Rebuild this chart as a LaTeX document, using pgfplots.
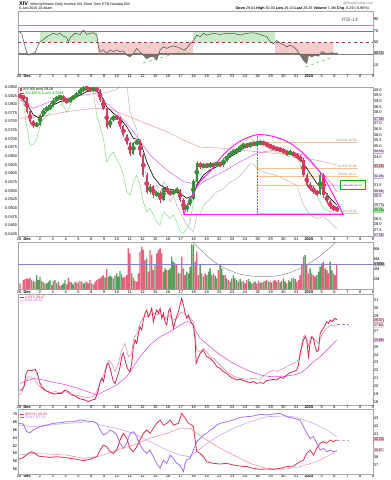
\documentclass[border=0pt]{standalone}
\usepackage{pgfplots}
\pgfplotsset{compat=1.18}
\usepackage{pgfplotstable}
\usepackage{fontspec}
\setmainfont{Liberation Sans}

\definecolor{rsigreen}{HTML}{C9EBC9}
\definecolor{rsired}{HTML}{F6CBCB}
\definecolor{rsipink}{HTML}{F07090}
\definecolor{rsiline}{HTML}{4A4A4A}
\definecolor{rsidash}{HTML}{C0304A}
\definecolor{rsidark}{HTML}{6E6558}
\definecolor{trgreen}{HTML}{66CC66}
\definecolor{cred}{HTML}{D63A5C}
\definecolor{cgreen}{HTML}{3C8C3C}
\definecolor{vred}{HTML}{E4627E}
\definecolor{vgreen}{HTML}{5C9C5C}
\definecolor{magma}{HTML}{E070E8}
\definecolor{salmon}{HTML}{EBA3A3}
\definecolor{cupmag}{HTML}{FF22FF}
\definecolor{fibor}{HTML}{F6C28E}
\definecolor{glight}{HTML}{80E080}
\definecolor{grayln}{HTML}{B8B8B8}
\definecolor{volblue}{HTML}{8080D8}
\definecolor{vix1}{HTML}{D92550}
\definecolor{vix2}{HTML}{EC8FA3}
\definecolor{vixma}{HTML}{E055E0}
\definecolor{bred}{HTML}{E0304F}
\definecolor{bred2}{HTML}{F29AAA}
\definecolor{bpur}{HTML}{A56CF2}
\definecolor{bpur2}{HTML}{CBA6F2}
\definecolor{boxpur}{HTML}{B070E0}

\pgfplotstableread{
x y
0.36 68.7
0.57 66
0.75 49
0.96 33
1.09 28
1.35 31
1.61 32
1.79 42.5
2.0 51
2.26 55
2.52 60
2.78 63
3.04 66
3.30 64
3.56 66
3.82 61
4.08 59
4.21 51
4.40 60
4.73 66
5.13 64
5.39 71.7
5.65 64
5.91 66
6.17 67
6.43 63
6.56 42.5
6.69 34
6.95 37
7.21 31
7.47 37
7.73 34
7.99 37
8.25 34
8.51 35.5
8.77 28
9.03 25
9.29 31
9.55 39.7
9.81 34
10.07 28
10.33 22
10.59 25
10.85 26
11.11 19
11.375 37
11.64 42.5
11.90 39.7
12.16 42.5
12.42 44
12.68 42.5
12.94 40
13.20 37
13.46 40
13.72 48
13.98 53.5
14.24 63
14.50 60
14.76 66
15.02 63
15.54 66
16.06 64
16.58 66
17.10 66
17.63 63
18.15 66
18.67 67
19.19 64
19.71 60
19.97 51
20.23 48
20.49 53.5
20.75 49
21.01 46
21.27 42.5
21.53 45
21.79 42.5
22.05 37
22.31 28
22.57 19
22.83 13.5
22.96 28
23.22 25
23.48 28
23.74 26
24.00 34
24.27 31
24.53 31
24.79 32
25.05 31
25.23 31.7
}\rsi

\pgfplotstableread{
x o c h l
0.44 39.50 39.40 39.65 39.25
0.70 39.40 39.32 39.55 39.10
0.96 39.32 38.07 39.40 37.90
1.22 38.07 37.17 38.20 37.00
1.48 37.17 36.87 37.30 36.60
3.82 39.40 39.11 39.55 38.95
4.08 39.11 38.96 39.25 38.75
5.645 40.20 40.15 40.35 39.95
5.905 40.15 40.00 40.30 39.85
6.43 40.15 40.00 40.30 39.80
6.69 40.00 39.11 40.10 38.95
6.95 39.11 38.36 39.25 38.20
7.21 38.36 36.73 38.50 36.55
7.99 37.62 37.47 37.80 37.30
8.25 37.47 36.73 37.60 36.55
8.51 36.73 35.98 36.90 35.80
8.77 35.98 35.24 36.10 35.05
9.03 35.24 34.35 35.40 34.15
9.81 35.39 34.20 35.55 34.00
10.07 34.20 32.41 34.35 32.20
10.33 32.41 30.92 32.55 30.70
10.85 31.37 30.62 31.55 30.40
11.375 30.77 30.18 30.95 29.95
11.895 31.22 30.92 31.40 30.75
12.155 30.92 30.77 31.10 30.55
12.935 31.05 30.18 31.20 30.00
13.20 30.18 29.29 30.35 29.05
14.50 33.45 33.15 33.60 32.95
15.02 33.30 33.20 33.45 33.00
15.54 33.35 33.30 33.50 33.10
16.06 33.45 33.30 33.60 33.10
18.145 35.09 35.00 35.25 34.85
18.665 35.24 35.15 35.40 35.00
19.445 35.33 35.24 35.45 35.05
19.705 35.24 35.09 35.35 34.90
19.965 35.09 34.94 35.20 34.75
20.225 34.94 34.79 35.10 34.60
20.485 34.79 34.73 34.95 34.55
20.75 34.73 34.64 34.90 34.45
21.01 34.64 34.49 34.80 34.30
21.27 34.49 34.35 34.65 34.15
21.79 34.40 34.20 34.55 34.00
22.05 34.20 34.05 34.35 33.85
22.31 34.05 33.75 34.20 33.55
22.57 33.75 32.41 33.90 32.20
22.83 32.41 31.52 32.60 31.30
23.09 31.52 31.22 31.75 31.00
23.35 31.22 30.92 31.45 30.70
23.61 30.92 30.77 31.10 30.55
24.135 32.41 30.62 32.55 30.40
24.395 30.62 30.03 30.80 29.80
24.655 30.03 29.58 30.20 29.35
24.915 29.58 29.43 29.75 29.20
25.175 29.43 29.28 29.60 29.10
}\cdn

\pgfplotstableread{
x o c h l
1.74 36.87 36.93 37.10 36.70
2.0 36.93 37.77 37.90 36.80
2.26 37.77 38.21 38.35 37.60
2.52 38.21 38.36 38.55 38.05
2.78 38.36 38.66 38.80 38.20
3.04 38.66 39.11 39.25 38.50
3.30 39.11 39.32 39.50 38.95
3.56 39.32 39.40 39.60 39.15
4.34 38.96 39.26 39.40 38.80
4.60 39.26 39.40 39.55 39.10
4.86 39.40 39.70 39.85 39.25
5.125 39.70 40.00 40.15 39.55
5.385 40.00 40.20 40.35 39.85
6.17 40.00 40.15 40.30 39.85
7.47 36.73 37.32 37.50 36.60
7.73 37.32 37.62 37.80 37.15
9.29 34.35 35.24 35.40 34.20
9.55 35.24 35.39 35.60 35.05
10.59 30.92 31.37 31.60 30.75
11.11 30.62 30.77 31.00 30.45
11.635 30.18 31.22 31.45 30.05
12.415 30.77 30.92 31.15 30.60
12.675 30.92 31.05 31.30 30.75
13.46 29.29 29.73 29.95 29.10
13.72 29.73 30.33 30.55 29.60
13.98 30.33 31.82 32.05 30.20
14.24 31.82 33.45 33.70 31.70
14.76 33.15 33.30 33.50 33.00
15.28 33.20 33.35 33.55 33.05
15.80 33.30 33.45 33.65 33.15
16.32 33.30 33.75 33.95 33.15
16.58 33.75 34.05 34.25 33.60
16.84 34.05 34.35 34.55 33.90
17.10 34.35 34.49 34.70 34.20
17.36 34.49 34.64 34.85 34.35
17.625 34.64 34.94 35.10 34.50
17.885 34.94 35.09 35.30 34.80
18.405 35.00 35.24 35.40 34.85
18.925 35.15 35.24 35.45 35.00
19.185 35.24 35.33 35.50 35.10
21.53 34.35 34.40 34.60 34.20
23.875 30.77 32.41 32.70 30.60
}\cup

\pgfplotstableread{
x y
0.44 39.40
0.96 38.81
1.48 37.77
2.0 37.47
2.52 38.07
3.04 38.66
3.56 38.96
4.08 39.11
4.60 39.26
5.125 39.55
5.645 39.85
6.17 40.00
6.69 39.70
6.95 39.11
7.21 38.51
7.73 37.92
8.25 37.47
8.77 36.73
9.29 35.68
9.81 35.54
10.33 33.60
10.85 32.26
11.375 31.52
11.895 31.22
12.415 31.07
12.935 30.77
13.46 30.33
13.98 30.62
14.24 31.52
14.76 32.41
15.28 32.86
15.80 33.15
16.32 33.45
16.84 34.05
17.36 34.35
17.885 34.79
18.405 35.00
18.925 35.15
19.445 35.15
19.965 35.00
20.485 34.79
21.01 34.58
21.53 34.40
22.05 34.20
22.57 33.45
23.09 32.56
23.61 31.67
24.135 31.07
24.655 30.33
25.175 29.73
}\pblack

\pgfplotstableread{
x y
0.44 39.11
1.48 38.36
2.78 38.96
4.08 39.26
5.385 39.55
6.43 39.70
6.69 39.26
7.99 38.07
9.29 36.28
10.59 34.20
11.895 32.86
13.20 31.82
14.50 31.52
14.76 31.82
16.32 32.71
17.625 33.60
18.925 34.35
20.225 34.64
21.53 34.49
22.57 34.20
23.61 33.00
24.655 31.82
25.175 30.92
}\pmag

\pgfplotstableread{
x y
0.44 37.47
2.0 37.62
4.08 38.07
6.17 38.36
7.47 38.30
9.29 37.47
10.59 36.87
11.895 36.28
13.20 35.54
14.50 34.90
16.32 34.79
17.625 34.64
18.925 34.49
20.225 34.35
21.53 34.20
22.83 33.90
24.135 33.60
25.175 33.30
}\psal

\pgfplotstableread{
x y
3.56 0.0796
4.08 0.0815
4.86 0.0829
5.645 0.0843
6.43 0.0839
7.21 0.0834
7.99 0.0843
8.38 0.0860
8.77 0.0860
9.03 0.0776
9.29 0.0748
9.55 0.0728
9.81 0.0662
10.07 0.0633
10.33 0.0585
10.59 0.0547
10.85 0.0556
11.11 0.0566
11.375 0.0537
11.635 0.0575
11.895 0.0566
12.155 0.0518
12.415 0.0537
12.675 0.0508
12.935 0.0489
13.20 0.0470
13.46 0.0451
13.72 0.0441
13.98 0.0432
14.24 0.0480
14.50 0.0480
14.76 0.0508
15.28 0.0527
15.80 0.0547
16.32 0.0556
16.84 0.0575
17.36 0.0585
17.885 0.0604
18.405 0.0628
18.665 0.0628
18.925 0.0614
19.445 0.0604
19.965 0.0599
20.485 0.0594
21.01 0.0585
21.53 0.0575
22.05 0.0566
22.57 0.0508
23.09 0.0480
23.61 0.0470
24.135 0.0475
24.655 0.0460
25.175 0.0441
}\pgray

\pgfplotstableread{
x y
0.44 0.0824
0.70 0.0805
0.96 0.0738
1.22 0.0681
1.48 0.0685
1.74 0.0700
2.0 0.0738
2.26 0.0757
2.52 0.0767
2.78 0.0776
3.04 0.0796
3.30 0.0815
3.56 0.0815
3.82 0.0796
4.08 0.0776
4.34 0.0796
4.60 0.0815
5.125 0.0834
5.645 0.0843
6.17 0.0834
6.43 0.0767
6.69 0.0738
6.95 0.0700
7.21 0.0633
7.47 0.0652
7.73 0.0662
7.99 0.0642
8.25 0.0623
8.51 0.0595
8.77 0.0547
9.03 0.0537
9.29 0.0575
9.55 0.0595
9.81 0.0566
10.07 0.0518
10.33 0.0489
10.59 0.0499
10.85 0.0480
11.11 0.0460
11.375 0.0451
11.635 0.0489
11.895 0.0480
12.155 0.0470
12.415 0.0480
12.675 0.0460
12.935 0.0432
13.20 0.0427
13.46 0.0441
13.72 0.0460
13.98 0.0518
14.24 0.0614
14.50 0.0594
14.76 0.0619
15.28 0.0623
15.80 0.0628
16.32 0.0642
16.84 0.0662
17.36 0.0671
17.885 0.0690
18.405 0.0705
18.925 0.0685
19.445 0.0681
19.965 0.0671
20.485 0.0662
21.01 0.0657
21.53 0.0647
22.05 0.0647
22.57 0.0604
23.09 0.0566
23.61 0.0537
24.135 0.0499
24.655 0.0489
25.175 0.0499
}\pgreen

\pgfplotstableread{
x y
0.44 1.21
0.70 1.86
0.83 2.06
0.96 2.19
1.09 2.06
1.22 2.32
1.35 1.86
1.61 1.54
2.26 1.41
2.91 0.88
3.04 1.67
3.43 1.54
3.56 0.75
4.08 1.01
4.21 2.32
4.34 1.54
4.73 1.54
4.86 1.34
5.125 1.67
5.255 1.54
5.645 1.54
5.775 1.21
5.905 1.86
6.17 1.01
6.30 1.54
6.43 1.86
6.56 2.06
6.69 2.19
6.82 2.52
6.95 2.84
7.21 4.02
7.73 2.19
8.38 2.97
8.51 2.32
8.64 2.52
8.77 2.84
8.90 8.07
9.03 7.10
9.29 2.32
9.42 1.67
9.55 1.54
9.68 3.17
9.81 7.42
9.94 8.40
10.07 7.75
10.20 5.78
10.46 3.50
10.59 7.75
10.72 6.76
10.85 3.82
11.11 7.10
11.24 7.75
11.375 8.07
11.505 7.10
11.895 3.82
12.675 4.80
12.935 3.17
13.065 6.43
13.20 4.15
13.33 2.84
14.11 5.46
14.24 7.42
14.37 2.84
14.63 3.17
14.89 3.17
15.41 2.84
15.54 3.17
15.93 3.82
16.45 2.84
16.71 1.86
16.97 2.19
17.49 1.54
17.885 1.67
18.015 1.21
18.145 1.86
18.535 1.21
18.665 1.41
18.925 1.21
19.055 1.67
19.315 1.41
19.445 1.54
19.705 1.86
19.965 1.54
20.225 1.67
20.355 1.86
20.615 1.86
20.88 1.67
21.27 1.21
21.79 2.32
22.05 1.54
22.18 1.86
22.31 2.84
22.44 4.80
22.57 6.44
22.83 4.80
22.96 3.17
23.22 3.17
23.35 2.84
23.48 2.52
24.005 5.13
24.135 5.46
24.395 3.82
24.525 3.17
24.915 3.17
25.045 2.84
25.175 4.80
}\vr

\pgfplotstableread{
x y
1.48 1.54
1.74 2.84
1.87 1.86
2.0 2.52
2.13 1.67
2.39 1.21
2.52 1.21
2.65 1.54
2.78 1.86
3.17 1.86
3.30 1.21
3.69 0.88
3.82 1.21
3.95 1.86
4.47 1.41
4.60 1.01
4.99 1.41
5.385 1.21
5.515 1.41
6.04 1.21
7.08 2.32
7.34 2.52
7.47 2.71
7.60 2.52
7.86 2.71
7.99 3.17
8.12 2.52
8.25 3.63
9.16 3.17
10.33 6.10
10.98 4.80
11.635 3.50
11.765 4.15
12.025 3.82
12.155 4.15
12.285 6.43
12.415 5.46
12.545 5.13
12.805 3.17
13.46 3.50
13.59 3.17
13.72 4.48
13.85 8.86
13.98 8.73
14.50 4.80
14.76 2.52
15.02 2.84
15.15 3.50
15.28 4.15
15.67 2.71
15.80 2.19
16.06 4.80
16.19 4.15
16.32 2.84
16.58 2.19
16.84 1.54
17.10 2.71
17.23 2.19
17.36 1.86
17.625 2.06
17.755 1.54
18.275 2.06
18.405 1.54
18.795 1.54
19.185 1.34
19.575 1.67
19.835 1.54
20.095 1.34
20.485 1.54
20.75 1.41
21.01 2.19
21.14 1.54
21.40 1.86
21.53 1.54
21.66 2.19
21.92 2.06
22.70 6.76
23.09 4.15
23.61 2.84
23.74 3.50
23.875 4.48
24.265 4.15
24.655 5.46
24.785 3.82
}\vg

\pgfplotstableread{
x y
0.36 19.49
0.57 19.49
0.75 19.92
0.91 21.62
1.09 22.05
1.35 21.96
1.61 22.13
1.79 21.62
1.95 20.56
2.13 19.92
2.39 19.49
2.65 19.28
2.91 19.06
3.17 18.98
3.43 19.06
3.69 19.06
3.95 19.49
4.21 19.28
4.47 18.85
4.73 18.72
4.99 18.43
5.255 18.30
5.515 18.21
5.775 18.00
6.04 18.21
6.30 18.30
6.56 19.49
6.69 20.56
6.82 20.98
6.95 20.56
7.08 21.62
7.21 22.69
7.34 22.90
7.47 22.26
7.60 21.41
7.73 20.56
7.86 20.34
7.99 20.98
8.12 21.62
8.25 22.48
8.38 23.75
8.51 24.18
8.64 23.33
8.77 22.48
8.90 22.05
9.03 21.84
9.16 22.90
9.29 25.03
9.42 25.89
9.55 25.46
9.68 26.74
9.81 27.59
9.94 27.16
10.07 28.44
10.20 29.30
10.33 29.72
10.46 28.87
10.59 29.30
10.72 29.94
10.85 28.23
10.98 29.08
11.11 29.72
11.24 29.30
11.375 29.94
11.505 28.66
11.635 29.30
11.765 28.23
11.895 27.80
12.025 29.50
12.155 29.94
12.285 28.66
12.415 27.38
12.545 28.23
12.675 28.87
12.805 29.50
12.935 30.36
13.065 31.21
13.20 30.36
13.33 29.30
13.46 28.66
13.59 29.08
13.72 28.44
13.85 28.02
13.98 27.70
14.11 25.89
14.19 22.90
14.29 23.33
14.50 24.18
14.76 24.60
15.02 23.75
15.28 23.54
15.54 23.12
15.80 22.48
16.06 22.26
16.32 21.84
16.58 21.62
16.84 21.20
17.10 20.98
17.36 20.77
17.625 20.86
17.885 20.69
18.145 20.56
18.405 20.43
18.665 20.56
18.925 20.34
19.185 20.43
19.445 20.34
19.705 20.69
19.965 20.77
20.225 20.86
20.485 20.77
20.75 21.11
21.01 20.98
21.27 21.41
21.53 21.71
21.79 21.84
22.05 22.05
22.18 22.69
22.31 24.18
22.44 25.03
22.57 25.89
22.70 26.31
22.83 25.89
22.96 23.75
23.09 25.46
23.22 26.31
23.35 26.10
23.48 25.03
23.61 24.39
23.74 24.60
23.875 26.74
24.005 27.16
24.135 27.38
24.265 27.80
24.395 28.23
24.525 28.02
24.655 28.44
24.785 28.23
24.915 28.44
25.045 28.66
25.175 28.47
}\vixa

\pgfplotstableread{
x y
0.36 18.85
0.57 19.06
0.83 20.34
1.09 21.20
1.35 21.11
1.61 20.77
1.87 20.13
2.13 19.70
2.39 19.41
2.78 19.15
3.17 19.28
3.56 19.15
3.95 19.28
4.34 18.98
4.73 18.85
5.125 18.72
5.515 18.55
5.905 18.55
6.30 18.85
6.56 19.92
6.82 20.77
7.08 22.05
7.34 23.33
7.60 22.90
7.86 21.84
8.12 22.90
8.38 24.60
8.64 25.46
8.90 23.75
9.16 24.18
9.29 25.89
9.55 26.74
9.81 28.02
10.07 28.87
10.33 28.87
10.59 29.08
10.85 29.30
11.11 29.08
11.375 29.30
11.635 28.87
11.895 28.66
12.155 29.08
12.415 28.44
12.675 28.66
12.935 29.30
13.20 29.50
13.46 28.87
13.72 28.66
13.98 28.23
14.11 26.74
14.24 24.60
14.50 24.39
14.76 24.82
15.02 24.39
15.28 23.75
15.54 23.54
15.80 23.12
16.06 22.69
16.32 22.26
16.58 21.84
16.84 21.54
17.10 21.28
17.36 21.11
17.625 20.98
18.145 20.86
18.665 20.98
19.185 20.86
19.705 21.62
19.965 21.84
20.225 22.05
20.485 21.84
20.75 22.05
21.01 22.26
21.27 22.48
21.53 22.69
21.79 22.90
22.05 23.12
22.31 23.75
22.44 25.46
22.57 26.31
22.70 26.52
22.83 25.89
22.96 25.03
23.09 26.10
23.22 26.31
23.48 25.89
23.74 25.46
24.005 26.52
24.265 27.16
24.525 27.59
24.785 27.80
25.045 27.67
25.175 27.80
}\vixb

\pgfplotstableread{
x y
0.44 20.34
1.48 20.98
2.26 20.77
4.08 20.13
5.385 19.49
6.43 18.85
7.21 19.49
7.99 20.13
8.77 21.20
9.29 22.48
9.81 23.75
10.59 25.25
11.375 26.31
12.155 26.95
12.935 27.80
13.46 28.23
13.85 28.10
14.11 27.16
14.50 26.10
15.28 25.03
16.06 23.97
17.10 22.90
18.145 22.05
19.185 21.41
19.965 21.20
21.01 21.20
21.79 21.41
22.31 21.62
22.83 22.26
23.35 23.12
23.875 23.75
24.395 24.60
24.915 25.46
25.175 25.89
}\vixm

\pgfplotstableread{
x y
0.36 37.73
0.70 37.98
1.09 38.50
1.35 38.71
1.61 38.50
1.87 38.15
2.26 38.07
2.78 37.98
3.30 38.07
3.82 37.98
4.34 37.86
4.86 37.73
5.385 37.56
5.905 37.73
6.43 38.07
6.69 38.92
6.95 39.56
7.21 39.35
7.47 38.71
7.73 38.50
7.99 38.92
8.25 40.21
8.51 41.06
8.77 40.42
9.03 39.14
9.29 38.71
9.55 39.35
9.81 40.21
10.07 41.06
10.33 41.49
10.59 41.06
10.85 41.70
11.11 42.34
11.375 42.77
11.635 42.10
11.895 42.34
12.155 42.77
12.415 42.10
12.805 42.34
13.065 43.60
13.33 43.00
13.59 42.34
13.85 42.13
13.98 41.92
14.11 40.21
14.24 38.71
14.50 38.50
14.76 38.07
15.02 37.43
15.54 37.21
16.06 37.13
16.58 37.21
17.10 37.00
17.625 36.87
18.145 36.79
18.665 36.57
19.185 36.45
19.705 36.50
20.225 36.45
20.75 36.57
21.27 36.79
21.79 36.87
22.31 37.43
22.57 37.64
22.83 38.50
23.09 38.92
23.35 38.28
23.61 39.14
23.875 39.78
24.135 39.99
24.395 39.78
24.655 40.21
24.915 39.99
25.175 40.21
}\bra

\pgfplotstableread{
x y
0.36 38.28
1.48 38.50
4.08 38.28
5.385 37.86
6.69 38.15
7.99 38.92
9.29 39.56
10.59 40.42
11.895 41.06
12.935 41.70
13.72 41.70
14.24 41.06
15.02 40.21
16.06 39.14
17.10 38.28
18.405 37.21
19.705 36.57
21.01 36.45
22.31 36.79
23.61 37.43
24.915 38.55
25.175 38.85
}\brb

\pgfplotstableread{
x y
0.36 67.69
0.70 67.52
0.96 65.57
1.22 65.32
1.48 66.00
1.74 66.42
2.0 66.84
2.52 67.27
3.04 67.69
3.56 67.86
4.08 68.12
4.60 68.12
5.125 68.54
5.645 68.30
6.17 68.12
6.43 67.69
6.69 66.00
6.95 64.72
7.21 65.15
7.47 66.00
7.73 65.57
7.99 64.72
8.25 62.60
8.51 61.33
8.77 62.60
9.03 65.15
9.29 65.57
9.55 64.30
9.81 62.18
10.07 60.91
10.33 60.06
10.59 60.91
10.85 59.21
11.11 57.51
11.375 56.24
11.635 58.36
11.895 57.51
12.155 59.63
12.415 58.79
12.675 57.51
12.935 57.09
13.20 55.39
13.33 57.51
13.46 58.36
13.72 58.79
13.98 60.91
14.24 63.03
14.50 63.87
14.76 64.72
15.02 65.15
15.28 66.00
15.54 66.42
15.80 67.27
16.06 67.69
16.58 68.12
17.10 68.54
17.625 69.22
18.145 69.39
18.665 69.56
19.185 69.98
19.705 69.81
20.225 70.07
20.75 70.24
21.27 69.39
21.79 68.96
22.31 68.54
22.57 66.84
22.83 65.15
23.09 63.87
23.35 64.30
23.61 62.60
23.875 60.91
24.135 61.33
24.395 60.48
24.655 60.91
24.915 60.48
25.175 60.74
}\bpa

\pgfplotstableread{
x y
0.36 67.27
1.48 66.84
4.08 67.69
6.17 68.12
6.69 67.27
7.99 66.42
9.29 65.15
10.59 63.03
11.895 60.91
12.935 59.63
13.72 59.21
14.24 60.48
15.02 62.60
16.06 64.72
17.10 66.42
18.405 68.12
19.705 69.39
21.01 69.56
21.79 69.39
22.31 68.96
23.35 67.69
24.395 66.00
25.175 64.30
}\bpb

\pgfplotsset{
  pbase/.style={
    scale only axis, width=355pt, anchor=south west,
    xmin=0.28, xmax=28,
    axis line style={draw=black!35, line width=0.4pt},
    major tick length=0pt,
    every tick label/.append style={font=\fontsize{4}{4.5}\selectfont, inner sep=0.6pt},
    /pgf/number format/assume math mode=true,
    scaled y ticks=false,
    xtick=\empty,
  },
  xlab/.style={
    xtick={1,...,28},
    xticklabels={\textbf{Dec},2,3,4,5,8,9,10,11,12,15,16,17,18,19,22,23,24,26,29,30,31,\textbf{2015},5,6,7,8,9},
    extra x ticks={0.36}, extra x tick labels={28},
  },
  rlab/.style={yticklabel pos=right},
}
\tikzset{rbox/.style={anchor=west, inner sep=0.45pt, line width=0.35pt, rounded corners=0.5pt, font=\fontsize{3.5}{3.8}\selectfont}}

\begin{document}
\begin{tikzpicture}[x=1pt,y=1pt]
\path[use as bounding box] (0,0) rectangle (391,480);

% ---------------- RSI panel
\begin{axis}[pbase, xlab, rlab, at={(18pt,406pt)}, height=63pt, ymin=-5, ymax=105, ytick={10,50,70,90}]
\addplot[fill=rsigreen, draw=none] coordinates {(2.0,50) (6.5,50) (6.5,70) (2.0,70) (2.0,50)};
\addplot[fill=rsigreen, draw=none] coordinates {(13.95,50) (20.36,50) (20.36,70) (13.95,70) (13.95,50)};
\addplot[fill=rsired, draw=none] coordinates {(6.5,30) (13.95,30) (13.95,50) (6.5,50) (6.5,30)};
\addplot[fill=rsired, draw=none] coordinates {(20.36,30) (24.9,30) (24.9,50) (20.36,50) (20.36,30)};
\addplot[rsipink, line width=0.8pt] coordinates {(0.28,80) (28,80)};
\addplot[black!50, line width=0.5pt] coordinates {(0.28,70) (28,70)};
\addplot[black!50, line width=0.5pt] coordinates {(0.28,30) (28,30)};
\addplot[rsidash, line width=1pt, dashed] coordinates {(0.28,50) (28,50)};
\addplot[rsiline, line width=0.5pt] table {\rsi};
\addplot[trgreen, dashed, line width=0.6pt] coordinates {(10.04,14.2) (13.48,36.9)};
\addplot[trgreen, dashed, line width=0.6pt] coordinates {(22.7,7.2) (24.9,24.7)};
\end{axis}
% fill of the RSI below 30 (depth under the 30 line, axis reversed, clipped at 30)
\begin{axis}[pbase, hide axis, at={(18pt,406pt)}, height=20.045pt, ymin=0, ymax=35, y dir=reverse]
\addplot[fill=rsidark, fill opacity=0.9, draw=none] table[x=x, y expr=30-\thisrow{y}] {\rsi} \closedcycle;
\end{axis}

% ---------------- Price panel (left scale)
\begin{axis}[pbase, xlab, at={(18pt,243.3pt)}, height=149.7pt, ymin=0.04172, ymax=0.08501,
  ytick={0.0425,0.0450,0.0475,0.0500,0.0525,0.0550,0.0575,0.0600,0.0625,0.0650,0.0675,0.0700,0.0725,0.0750,0.0775,0.0800,0.0825,0.0850},
  yticklabel style={/pgf/number format/fixed, /pgf/number format/precision=4, /pgf/number format/fixed zerofill}]
\addplot[grayln, line width=0.5pt] table {\pgray};
\addplot[glight, line width=0.5pt] table {\pgreen};
\end{axis}
% ---------------- Price panel (right scale)
\begin{axis}[pbase, rlab, at={(18pt,243.3pt)}, height=149.7pt, ymin=26.9, ymax=40.27,
  ytick={27.5,28,28.5,30.5,31.5,34,35,35.5,36,36.5,37,38,38.5,39,39.5,40},
  yticklabel style={/pgf/number format/fixed, /pgf/number format/precision=1, /pgf/number format/fixed zerofill}]
\addplot[fibor, line width=0.5pt] coordinates {(18.9,35.38) (26.8,35.38)};
\addplot[fibor, line width=0.5pt] coordinates {(18.9,33.01) (26.8,33.01)};
\addplot[fibor, line width=0.5pt] coordinates {(18.9,32.32) (26.8,32.32)};
\addplot[fibor, line width=0.5pt] coordinates {(18.9,31.52) (26.8,31.52)};
\addplot[fibor, line width=0.5pt] coordinates {(18.9,29.00) (26.8,29.00)};
\addplot[salmon, line width=0.6pt] table {\psal};
\addplot[magma, line width=0.6pt] table {\pmag};
\addplot[black, line width=0.6pt] table {\pblack};
\addplot[only marks, mark=none, cred, error bars/.cd, y dir=both, y explicit, error mark=none, error bar style={line width=0.4pt}]
  table[x=x, y expr=(\thisrow{h}+\thisrow{l})/2, y error expr=(\thisrow{h}-\thisrow{l})/2] {\cdn};
\addplot[only marks, mark=none, cred, error bars/.cd, y dir=both, y explicit, error mark=none, error bar style={line width=2.2pt}]
  table[x=x, y expr=(\thisrow{o}+\thisrow{c})/2, y error expr=abs(\thisrow{o}-\thisrow{c})/2+0.03] {\cdn};
\addplot[only marks, mark=none, cgreen, error bars/.cd, y dir=both, y explicit, error mark=none, error bar style={line width=0.4pt}]
  table[x=x, y expr=(\thisrow{h}+\thisrow{l})/2, y error expr=(\thisrow{h}-\thisrow{l})/2] {\cup};
\addplot[only marks, mark=none, cgreen, error bars/.cd, y dir=both, y explicit, error mark=none, error bar style={line width=2.2pt}]
  table[x=x, y expr=(\thisrow{o}+\thisrow{c})/2, y error expr=abs(\thisrow{o}-\thisrow{c})/2+0.03] {\cup};
\addplot[cupmag, line width=1pt, smooth] coordinates {(13.2,28.84) (13.85,30.48) (14.5,31.81) (15.28,32.74) (16.32,34.22) (17.6,35.42) (18.93,36.0) (20.2,35.86) (21.5,35.27) (22.8,34.08) (24.1,32.29) (24.9,30.63) (25.7,28.84)};
\addplot[cupmag, line width=1pt] coordinates {(13.2,28.84) (25.7,28.84)};
\addplot[cupmag, densely dotted, line width=0.5pt] coordinates {(18.95,35.9) (18.95,29.0)};
\addplot[boxpur, densely dashed, line width=0.4pt] coordinates {(24.9,29.58) (25.6,29.58)};
\addplot[green!70!black, line width=0.6pt] coordinates {(25.44,31.16) (27.39,31.16) (27.39,31.96) (25.44,31.96) (25.44,31.16)};
\node[anchor=south east, inner sep=0.4pt, font=\fontsize{3.3}{3.5}\selectfont, text=black!45] at (axis cs:26.76,35.38) {100.0\% 35.40};
\node[anchor=south east, inner sep=0.4pt, font=\fontsize{3.3}{3.5}\selectfont, text=black!45] at (axis cs:26.76,33.01) {61.8\% 32.88};
\node[anchor=south east, inner sep=0.4pt, font=\fontsize{3.3}{3.5}\selectfont, text=black!45] at (axis cs:26.76,32.32) {50.0\% 32.12};
\node[anchor=south east, inner sep=0.4pt, font=\fontsize{3.3}{3.5}\selectfont, text=black!45] at (axis cs:27.2,31.35) {38.2\% 31.40};
\node[anchor=south east, inner sep=0.4pt, font=\fontsize{3.3}{3.5}\selectfont, text=black!45] at (axis cs:26.76,29.00) {0.0\% 28.90};
\end{axis}

% ---------------- Volume panel
\begin{axis}[pbase, xlab, rlab, at={(18pt,190.5pt)}, height=47.2pt, ymin=0, ymax=9.25, ytick={2,4,6,8}, yticklabels={2M,4M,6M,8M}]
\addplot[ybar, bar width=1.35pt, bar shift=0pt, fill=vred, draw=none] table {\vr};
\addplot[ybar, bar width=1.35pt, bar shift=0pt, fill=vgreen, draw=none] table {\vg};
\addplot[volblue, line width=0.7pt] coordinates {(0.28,4.94) (28,4.94)};
\addplot[black!45, line width=0.5pt, smooth] coordinates {(13.6,10.0) (14.5,7.9) (15.5,5.6) (16.5,4.1) (17.5,3.1) (18.5,2.65) (19.45,2.5) (20.5,2.7) (21.5,3.3) (22.5,4.4) (23.5,5.9) (24.5,7.9) (25.3,9.8)};
\end{axis}

% ---------------- VIX panel
\begin{axis}[pbase, xlab, rlab, at={(18pt,75pt)}, height=111pt, ymin=17.57, ymax=31.77, ytick={18,19,20,21,22,23,24,25,27,29,30,31}]
\addplot[vixma, line width=0.6pt] table {\vixm};
\addplot[vix2, line width=0.6pt] table {\vixb};
\addplot[vix1, line width=0.8pt] table {\vixa};
\addplot[vixma, densely dashed, line width=0.5pt] coordinates {(25.2,27.85) (26.1,27.85)};
\end{axis}

% ---------------- bottom panel
\begin{axis}[pbase, xlab, at={(18pt,6pt)}, height=64.7pt, ymin=54.8, ymax=71.27, ytick={56,58,...,70}]
\addplot[bpur2, line width=0.6pt] table {\bpb};
\addplot[bpur, line width=0.8pt] table {\bpa};
\end{axis}
\begin{axis}[pbase, rlab, at={(18pt,6pt)}, height=64.7pt, ymin=35.85, ymax=44.14, ytick={37,38,41,42,43}]
\addplot[bred2, line width=0.6pt] table {\brb};
\addplot[bred, line width=0.8pt] table {\bra};
\addplot[bpur2, densely dashed, line width=0.5pt] coordinates {(25.2,40.21) (26.1,40.21)};
\end{axis}

% ---------------- texts
\node[anchor=base west, font=\fontsize{5.5}{6}\selectfont\bfseries, inner sep=0] at (19,474.5) {XIV};
\node[anchor=base west, font=\fontsize{3.6}{4}\selectfont, inner sep=0] at (30,474.5) {VelocityShares Daily Inverse VIX Short Term ETN Nasdaq GM};
\node[anchor=base west, font=\fontsize{3.6}{4}\selectfont, inner sep=0] at (19,470.3) {6-Jan-2015 10:46am};
\node[anchor=base east, font=\fontsize{3.4}{4}\selectfont, text=black!55, inner sep=0] at (373,475.6) {@StockCharts.com};
\node[anchor=base east, font=\fontsize{3.7}{4}\selectfont, inner sep=0] at (369,470.3) {\textbf{Open} 29.64 \textbf{High} 30.00 \textbf{Low} 29.10 \textbf{Last} 29.28 \textbf{Volume} 7.4M \textbf{Chg} -0.29 (-0.98\%)};
\node[anchor=east, font=\fontsize{5}{5.5}\selectfont, text=black!65, inner sep=0] at (358,460) {RSI-14};

\node[anchor=west, font=\fontsize{3.6}{4}\selectfont, inner sep=0] at (20,390) {\textcolor{cred}{\rule{2pt}{2.5pt}} XIV (60 min) 29.28};
\node[anchor=west, font=\fontsize{3.6}{4}\selectfont, inner sep=0, text=green!65!black] at (20,386.2) {\rule[0.8pt]{4pt}{0.5pt} XIV:\$SPX (Line) 0.0499};
\node[anchor=west, font=\fontsize{3.6}{4}\selectfont, inner sep=0, text=vix1] at (20,183) {\rule[0.8pt]{4pt}{0.6pt} UVXY 28.47};
\node[anchor=west, font=\fontsize{3.6}{4}\selectfont, inner sep=0, text=vixma] at (20,179.3) {- - \$VIX 20.20};
\node[anchor=west, font=\fontsize{3.6}{4}\selectfont, inner sep=0, text=bred] at (20,65.6) {\rule[0.8pt]{4pt}{0.6pt} \$SPXU 40.29};
\node[anchor=west, font=\fontsize{3.6}{4}\selectfont, inner sep=0, text=bpur] at (20,62.4) {\rule[0.8pt]{4pt}{0.6pt} SVXY 60.74};

% right-side value boxes
\node[rbox, draw=black!50, fill=black!20] at (373.5,427) {30.72};
\node[rbox, draw=boxpur, fill=boxpur!15] at (373.5,361) {37.38};
\node[rbox, draw=boxpur, fill=boxpur!15] at (373.5,328.3) {34.54};
\node[rbox, draw=cred, fill=cred!20] at (373.5,314) {33.26};
\node[rbox, draw=boxpur, fill=boxpur!15] at (373.5,303.3) {32.26};
\node[rbox, draw=boxpur, fill=boxpur!15] at (373.5,288.3) {30.96};
\node[rbox, draw=black!60, fill=white] at (373.5,274.6) {29.73};
\node[rbox, draw=green!60!black, fill=green!35] at (373.5,269.6) {29.28};
\node[rbox, draw=boxpur, fill=boxpur!15] at (373.5,245) {27.28};
\node[rbox, draw=black!50, fill=black!25] at (373.5,215.7) {4.94M};
\node[rbox, draw=vix1, fill=vix1!15] at (373.5,159.5) {28.47};
\node[rbox, draw=vix2, fill=vix2!20] at (373.5,154.5) {27.80};
\node[rbox, draw=vixma, fill=vixma!15] at (373.5,140) {25.89};
\node[rbox, draw=bred, fill=bred!15] at (373.5,41) {40.29};
\node[rbox, draw=bred2, fill=bred2!20] at (373.5,30) {38.97};
\end{tikzpicture}
\end{document}
